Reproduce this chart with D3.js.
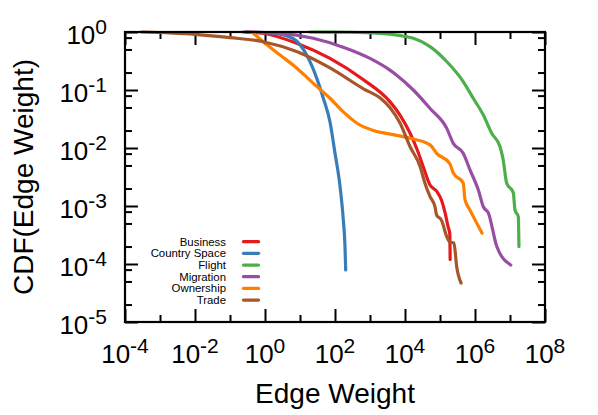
<!DOCTYPE html>
<html>
<head>
<meta charset="utf-8">
<script src="https://cdn.jsdelivr.net/npm/d3@7"></script>
<style>
  body { margin: 0; background: #fff; }
  text { font-family: "Liberation Sans", Arial, sans-serif; fill: #000; }
</style>
</head>
<body>
<div id="chart"></div>
<script>
// series names and colours
const seriesNames = ["Business", "Country Space", "Flight", "Migration", "Ownership", "Trade"];
const seriesColors = ["#e41a1c", "#377eb8", "#4daf4a", "#984ea3", "#ff7f00", "#a65628"];

// edge weight (x) and CDF (y)
const businessX = [0.31, 0.89, 8, 72, 650, 3700, 7200, 1.4e4, 2.2e4, 3.3e4, 5.2e4, 8.0e4, 1.1e5, 1.4e5, 1.7e5, 1.9e5, 1.95e5];
const businessY = [1, 0.95, 0.64, 0.35, 0.15, 0.063, 0.037, 0.018, 0.0095, 0.0048, 0.0023, 0.0018, 0.00127, 0.00076, 0.00044, 0.00034, 0.00012];

const countryX = [0.27, 1.4, 4.3, 8.0, 15.5, 30, 46, 72, 100, 139, 173, 193, 202];
const countryY = [1, 0.96, 0.85, 0.70, 0.40, 0.16, 0.073, 0.028, 0.0081, 0.0022, 0.00057, 0.0002, 0.000079];

const flightX = [19, 268, 1930, 1.73e4, 5.2e4, 1.55e5, 4.6e5, 8.9e5, 1.73e6, 3.0e6, 5.2e6, 6.4e6, 8.0e6, 1.24e7, 1.39e7, 1.73e7, 1.8e7];
const flightY = [1, 0.99, 0.95, 0.78, 0.56, 0.31, 0.14, 0.072, 0.037, 0.018, 0.0105, 0.0062, 0.0025, 0.0017, 0.00085, 0.00065, 0.0002];

const migrationX = [0.235, 2.7, 24, 216, 1000, 3700, 5800, 1.73e4, 5.2e4, 1.55e5, 2.4e5, 4.6e5, 7.2e5, 1.24e6, 1.73e6, 2.4e6, 4.2e6, 1.05e7];
const migrationY = [1, 0.95, 0.78, 0.52, 0.35, 0.22, 0.18, 0.1, 0.048, 0.022, 0.012, 0.0081, 0.0042, 0.0019, 0.00097, 0.00076, 0.0002, 0.000096];

const ownershipX = [0.42, 0.89, 2.7, 8.0, 24, 72, 173, 417, 1240, 4630, 1.4e4, 5.2e4, 8.0e4, 1.9e5, 2.4e5, 4.6e5, 5.2e5, 7.2e5, 1.6e6];
const ownershipY = [1, 0.68, 0.40, 0.24, 0.13, 0.072, 0.042, 0.027, 0.020, 0.017, 0.0147, 0.0113, 0.0081, 0.0054, 0.0037, 0.0025, 0.00127, 0.00085, 0.00034];

const tradeX = [3.0e-4, 1e-2, 0.1, 0.89, 8.0, 72, 650, 2000, 3700, 7200, 1.4e4, 2.7e4, 3.7e4, 5.2e4, 7.2e4, 8.0e4, 1.1e5, 1.55e5, 1.9e5, 2.5e5, 3.0e5, 4.0e5];
const tradeY = [1, 0.91, 0.80, 0.68, 0.46, 0.24, 0.105, 0.072, 0.05, 0.027, 0.0105, 0.0048, 0.0025, 0.00145, 0.00097, 0.0007, 0.00057, 0.0003, 0.00024, 0.00023, 0.00009, 0.000047];

// tick exponents
const xTickExps = [-4, -2, 0, 2, 4, 6, 8];
const yTickExps = [0, -1, -2, -3, -4, -5];

const seriesX = [businessX, countryX, flightX, migrationX, ownershipX, tradeX];
const seriesY = [businessY, countryY, flightY, migrationY, ownershipY, tradeY];

let margin = { top: 32, right: 53, bottom: 93, left: 125 },
    width = 598 - margin.left - margin.right,
    height = 415 - margin.top - margin.bottom;

let svg = d3.select("#chart").append("svg")
    .attr("width", 598)
    .attr("height", 415)
    .append("g")
    .attr("transform", "translate(" + margin.left + "," + margin.top + ")");

let x = d3.scaleLog().domain([1e-4, 1e8]).range([0, width]);
let y = d3.scaleLog().domain([1e-5, 1]).range([height, 0]);

// tick values: long ticks at labelled decades, short ones in between
let xMajor = xTickExps.map(e => Math.pow(10, e));
let xMinor = d3.range(-3, 8, 2).map(e => Math.pow(10, e));
let yMajor = yTickExps.map(e => Math.pow(10, e));
let yMinor = [];
d3.range(0, 5).forEach(k => [0.8, 0.5, 0.2].forEach(m => yMinor.push(m * Math.pow(10, -k))));

let axes = [
    { g: "translate(0," + height + ")", f: () => d3.axisBottom(x), major: xMajor, minor: xMinor },
    { g: "translate(0,0)", f: () => d3.axisTop(x), major: xMajor, minor: xMinor },
    { g: "translate(0,0)", f: () => d3.axisLeft(y), major: yMajor, minor: yMinor },
    { g: "translate(" + width + ",0)", f: () => d3.axisRight(y), major: yMajor, minor: yMinor }
];

axes.forEach(a => {
    [[a.major, 13], [a.minor, 7]].forEach(([vals, size]) => {
        let g = svg.append("g")
            .attr("transform", a.g)
            .call(a.f().tickValues(vals).tickSize(-size).tickFormat(""));
        g.select(".domain").remove();
        g.selectAll(".tick line").attr("stroke", "#000").attr("stroke-width", 2);
    });
});

// curves
let line = d3.line()
    .curve(d3.curveMonotoneX)
    .x(d => x(d[0]))
    .y(d => y(d[1]));

seriesNames.forEach((name, i) => {
    let pts = seriesX[i].map((v, j) => [v, seriesY[i][j]]);
    svg.append("path")
        .datum(pts)
        .attr("fill", "none")
        .attr("stroke", seriesColors[i])
        .attr("stroke-width", 3.2)
        .attr("stroke-linejoin", "round")
        .attr("stroke-linecap", "round")
        .attr("d", line);
});

// frame
svg.append("rect")
    .attr("width", width)
    .attr("height", height)
    .attr("fill", "none")
    .attr("stroke", "#000")
    .attr("stroke-width", 2.2);

// x tick labels
xTickExps.forEach(e => {
    let t = svg.append("text")
        .attr("x", x(Math.pow(10, e)))
        .attr("y", height + 41)
        .attr("text-anchor", "middle")
        .style("font-size", "26px");
    t.append("tspan").text("10");
    t.append("tspan").attr("dy", -10).style("font-size", "21px").text(e);
});

// y tick labels
yTickExps.forEach(e => {
    let t = svg.append("text")
        .attr("x", -18)
        .attr("y", y(Math.pow(10, e)) + 12)
        .attr("text-anchor", "end")
        .style("font-size", "26px");
    t.append("tspan").text("10");
    t.append("tspan").attr("dy", -10).style("font-size", "21px").text(e);
});

// axis titles
svg.append("text")
    .attr("x", width / 2)
    .attr("y", height + 81)
    .attr("text-anchor", "middle")
    .style("font-size", "28px")
    .text("Edge Weight");

svg.append("text")
    .attr("transform", "rotate(-90)")
    .attr("x", -height / 2)
    .attr("y", 33 - margin.left)
    .attr("text-anchor", "middle")
    .style("font-size", "28px")
    .text("CDF(Edge Weight)");

// legend
let legend = svg.append("g").attr("transform", "translate(0," + (241.7 - margin.top) + ")");
seriesNames.forEach((name, i) => {
    let yy = i * 11.67;
    legend.append("text")
        .attr("x", 226 - margin.left)
        .attr("y", yy + 4)
        .attr("text-anchor", "end")
        .style("font-size", "11.4px")
        .text(name);
    legend.append("line")
        .attr("x1", 243.5 - margin.left)
        .attr("x2", 258.5 - margin.left)
        .attr("y1", yy)
        .attr("y2", yy)
        .attr("stroke", seriesColors[i])
        .attr("stroke-width", 3.3)
        .attr("stroke-linecap", "round");
});
</script>
</body>
</html>
